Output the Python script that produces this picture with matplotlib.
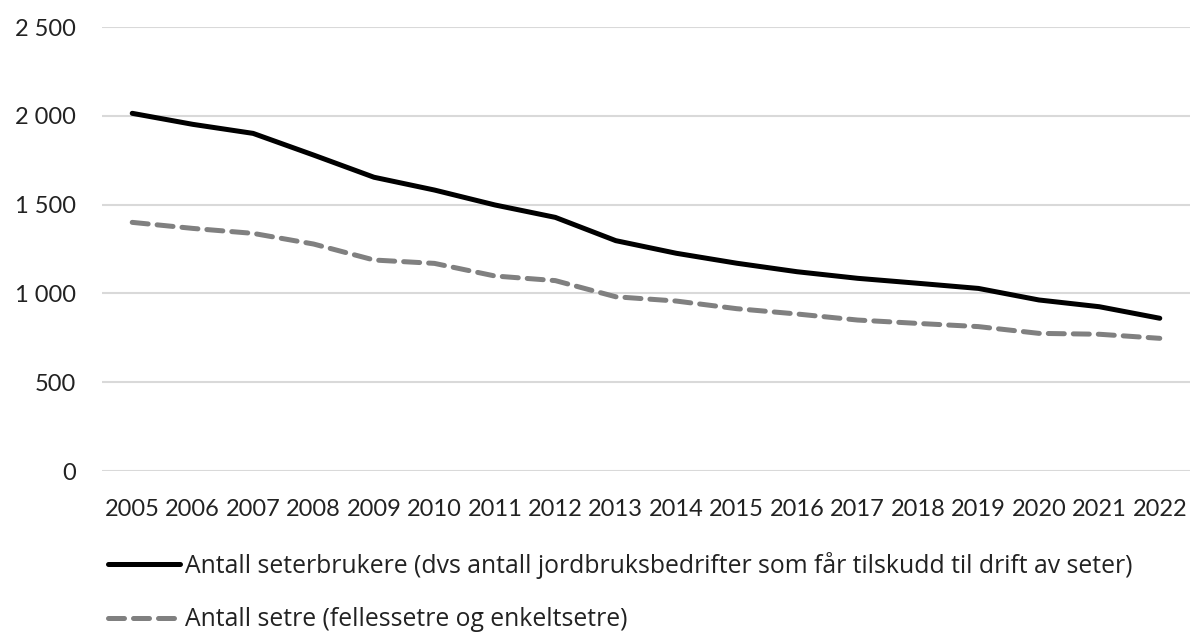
import matplotlib
matplotlib.use("Agg")
import matplotlib.pyplot as plt
from matplotlib.ticker import FuncFormatter

years = list(range(2005, 2023))
seterbrukere = [2014, 1952, 1901, 1779, 1654, 1582, 1498, 1428, 1297, 1226,
                1170, 1122, 1085, 1057, 1028, 963, 925, 860]
setre = [1400, 1366, 1338, 1278, 1188, 1169, 1098, 1072, 981, 957,
         914, 884, 850, 831, 813, 775, 770, 747]
label1 = "Antall seterbrukere (dvs antall jordbruksbedrifter som får tilskudd til drift av seter)"
label2 = "Antall setre (fellessetre og enkeltsetre)"
yticks = [0, 500, 1000, 1500, 2000, 2500]

plt.rcParams['font.family'] = ['Lato', 'DejaVu Sans']
fig = plt.figure(figsize=(11.9, 6.33), dpi=100)
ax = fig.add_axes([102/1190, 1-471/633, (1190-102)/1190, (471-27)/633])

l1, = ax.plot(years, seterbrukere, color='black', lw=3.6, solid_capstyle='round')
l2, = ax.plot(years, setre, color='#808080', lw=3.6, dashes=(3.2, 1.8), dash_capstyle='round')

ax.set_xlim(2004.5, 2022.5)
ax.set_ylim(0, 2500)
ax.set_yticks(yticks)
ax.yaxis.set_major_formatter(FuncFormatter(lambda v, p: f"{int(v):,}".replace(",", " ")))
ax.set_xticks(years)
ax.set_xticklabels([str(y) for y in years])
ax.grid(axis='y', color='#d9d9d9', lw=1.5)
ax.set_axisbelow(True)
for s in ax.spines.values():
    s.set_visible(False)
ax.tick_params(axis='both', length=0, labelsize=17, colors='#222222')
ax.tick_params(axis='y', pad=19)
ax.tick_params(axis='x', pad=20)

fig.legend([l1, l2], [label1, label2], loc='upper left',
           bbox_to_anchor=(108/1190, 1-552/633), frameon=False,
           prop={'family': ['Open Sans', 'DejaVu Sans'], 'size': 17.8},
           borderpad=0, borderaxespad=0,
           handlelength=2.9, handletextpad=0.2, labelspacing=1.15, labelcolor='#222222')

fig.savefig("out.png", dpi=100)
